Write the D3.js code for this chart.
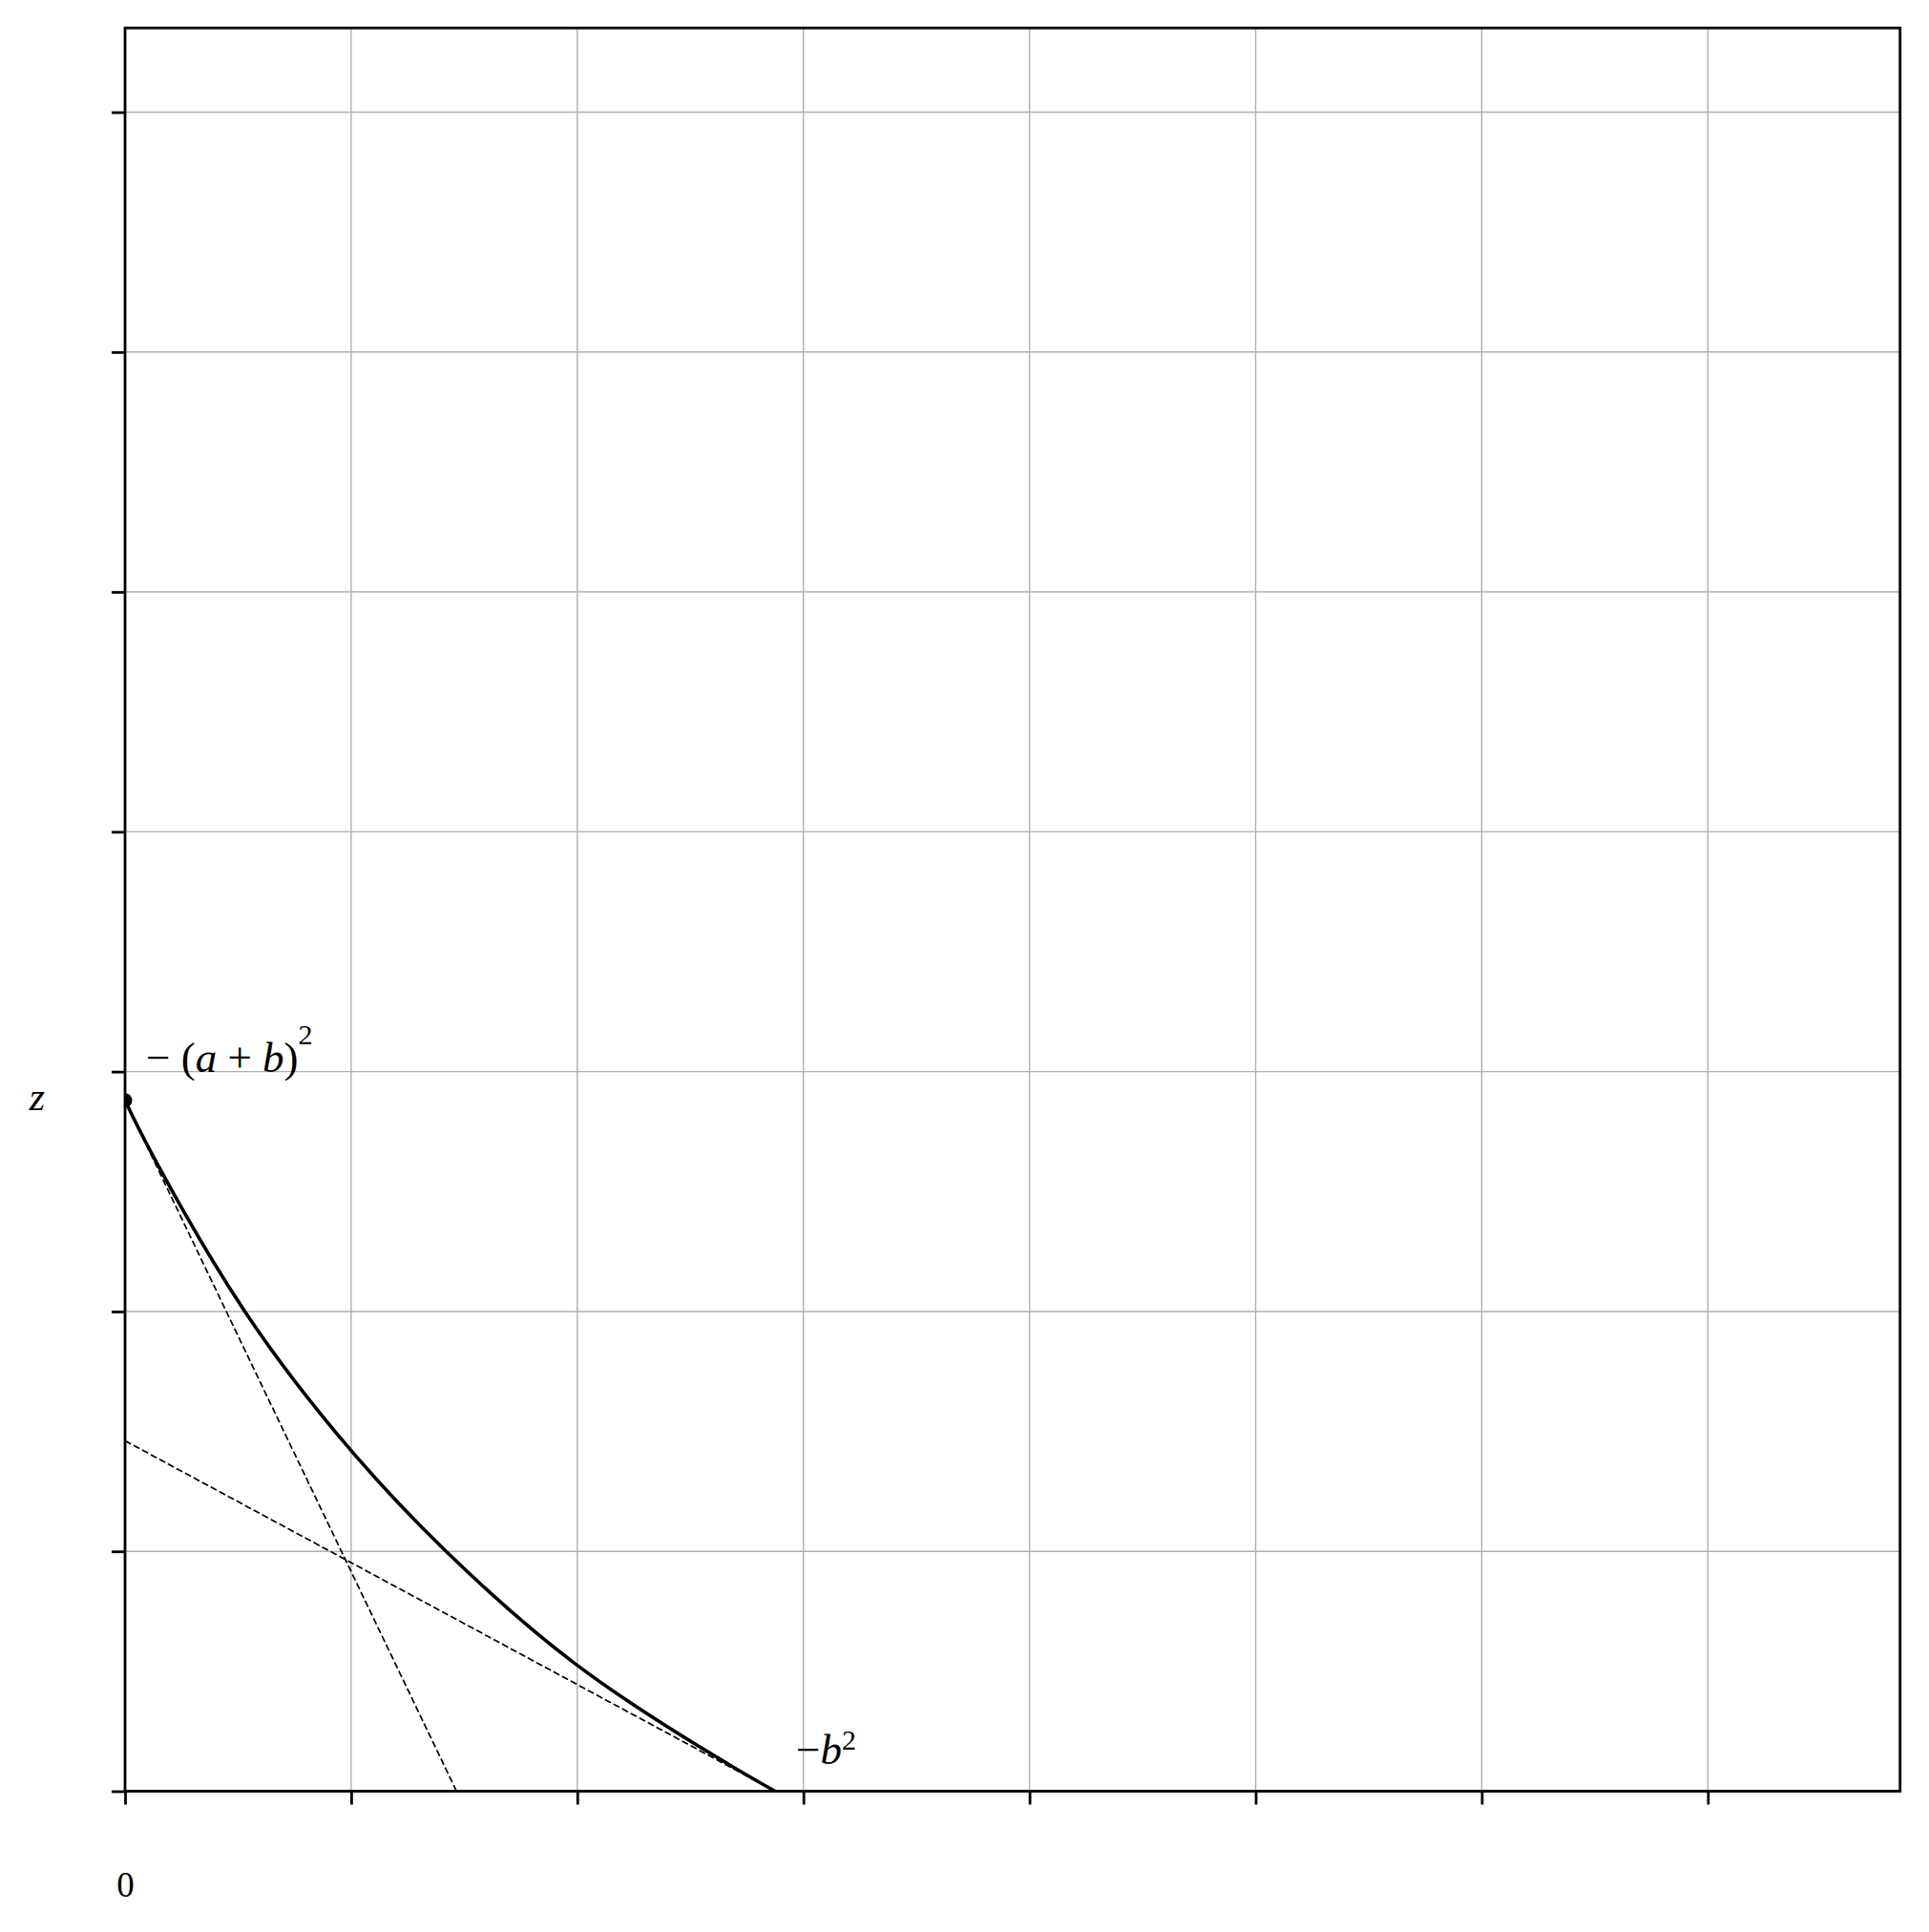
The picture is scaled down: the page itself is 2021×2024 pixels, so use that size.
<!DOCTYPE html>
<html>
<head>
<meta charset="utf-8">
<script src="https://cdn.jsdelivr.net/npm/d3@7"></script>
<style>
  body { margin: 0; background: #ffffff; }
  svg { display: block; }
  text { font-family: "Liberation Serif", "DejaVu Serif", serif; fill: #000; }
</style>
</head>
<body>
<div id="chart"></div>
<script>
// Curve (axis units = one grid cell)
const curveX = [0, 0.14, 0.53, 1.0, 1.42, 2.0, 2.62, 2.875];
const curveY = [2.88, 2.62, 2.0, 1.42, 1.0, 0.525, 0.14, 0];

// Dashed tangent lines at both ends of the curve
const tangentStart = [[0, 2.88], [1.466, 0]];
const tangentEnd = [[0, 1.461], [2.875, 0]];

// Ticks and labels
const xTicks = [0, 1, 2, 3, 4, 5, 6, 7];
const yTicks = [0, 1, 2, 3, 4, 5, 6, 7];
const xTickLabels = ["0", "", "", "", "", "", "", ""];
const xDomain = [0, 7.85];
const yDomain = [0, 7.351];
const zLabel = "z";

const W = 2021, H = 2024;
const margin = { top: 29.3, right: 30.3, bottom: 147.5, left: 131 };
const width = W - margin.left - margin.right;
const height = H - margin.top - margin.bottom;

const svgRoot = d3.select("#chart")
  .append("svg")
  .attr("width", W)
  .attr("height", H);

const svg = svgRoot.append("g")
  .attr("transform", `translate(${margin.left}, ${margin.top})`);

svgRoot.append("defs").append("clipPath")
  .attr("id", "plotClip")
  .append("rect")
  .attr("width", width)
  .attr("height", height);

const x = d3.scaleLinear().domain(xDomain).range([0, width]);
const y = d3.scaleLinear().domain(yDomain).range([height, 0]);

// grid
svg.append("g")
  .selectAll("line")
  .data(xTicks)
  .enter()
  .append("line")
  .attr("x1", d => x(d)).attr("x2", d => x(d))
  .attr("y1", 0).attr("y2", height)
  .attr("stroke", "#b0b0b0")
  .attr("stroke-width", 1.4);

svg.append("g")
  .selectAll("line")
  .data(yTicks)
  .enter()
  .append("line")
  .attr("x1", 0).attr("x2", width)
  .attr("y1", d => y(d)).attr("y2", d => y(d))
  .attr("stroke", "#b0b0b0")
  .attr("stroke-width", 1.4);

// dashed tangents
const straight = d3.line().x(d => x(d[0])).y(d => y(d[1]));
[tangentStart, tangentEnd].forEach(seg => {
  svg.append("path")
    .attr("d", straight(seg))
    .attr("fill", "none")
    .attr("stroke", "#000")
    .attr("stroke-width", 1.7)
    .attr("stroke-dasharray", "7,3.2")
    .attr("clip-path", "url(#plotClip)");
});

// main curve
const curveData = curveX.map((v, i) => [v, curveY[i]]);
svg.append("path")
  .datum(curveData)
  .attr("d", d3.line().x(d => x(d[0])).y(d => y(d[1])).curve(d3.curveNatural))
  .attr("fill", "none")
  .attr("stroke", "#000")
  .attr("stroke-width", 3.6)
  .attr("clip-path", "url(#plotClip)");

// start point
svg.append("circle")
  .attr("cx", x(curveX[0]))
  .attr("cy", y(curveY[0]))
  .attr("r", 7.5)
  .attr("fill", "#000")
  .attr("clip-path", "url(#plotClip)");

// frame
svg.append("rect")
  .attr("width", width)
  .attr("height", height)
  .attr("fill", "none")
  .attr("stroke", "#000")
  .attr("stroke-width", 2.8);

// x axis ticks
const xAxis = svg.append("g")
  .attr("transform", `translate(0, ${height})`)
  .call(d3.axisBottom(x)
    .tickValues(xTicks)
    .tickSize(14)
    .tickPadding(70)
    .tickFormat((d, i) => xTickLabels[i]));

// y axis ticks
const yAxis = svg.append("g")
  .call(d3.axisLeft(y)
    .tickValues(yTicks)
    .tickSize(14)
    .tickFormat(""));

[xAxis, yAxis].forEach(ax => {
  ax.select(".domain").remove();
  ax.selectAll(".tick line").attr("stroke", "#000").attr("stroke-width", 2.8);
});
xAxis.selectAll(".tick text")
  .style("font-family", "'Liberation Serif', serif")
  .style("font-size", "37px")
  .attr("fill", "#000");

// z label at the height of the start point
svg.append("text")
  .attr("x", 39 - margin.left)
  .attr("y", y(curveY[0]) + 10)
  .attr("text-anchor", "middle")
  .style("font-size", "42px")
  .style("font-style", "italic")
  .text(zLabel);

// annotation at the start point: -(a+b)^2
const startLabel = svg.append("text")
  .attr("x", x(curveX[0]) + 22)
  .attr("y", y(curveY[0]) - 30)
  .style("font-size", "45px");
startLabel.append("tspan").text("\u2212 (");
startLabel.append("tspan").style("font-style", "italic").text("a");
startLabel.append("tspan").text(" + ");
startLabel.append("tspan").style("font-style", "italic").text("b");
startLabel.append("tspan").text(")");
startLabel.append("tspan")
  .attr("dy", -29)
  .style("font-size", "30px")
  .text("2");

// annotation at the end point: -b^2
const endLabel = svg.append("text")
  .attr("x", x(curveX[curveX.length - 1]) + 22)
  .attr("y", y(curveY[curveY.length - 1]) - 28)
  .style("font-size", "45px");
endLabel.append("tspan").text("\u2212");
endLabel.append("tspan").style("font-style", "italic").text("b");
endLabel.append("tspan")
  .attr("dy", -15)
  .style("font-size", "30px")
  .text("2");
</script>
</body>
</html>
